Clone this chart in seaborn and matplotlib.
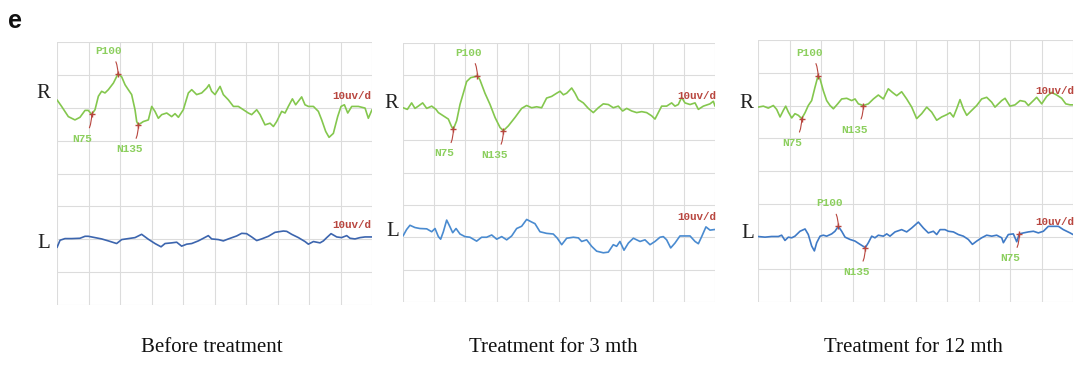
import numpy as np
import pandas as pd
import matplotlib
matplotlib.use("Agg")
import matplotlib.pyplot as plt
import seaborn as sns

# ---------------- data (time in ms, amplitude in uV) ----------------
p1_R_t = [0, 4.4, 10.8, 17.1, 21.9, 26.7, 29.8, 33.0, 36.2, 39.4, 42.5, 45.7, 48.9, 53.7, 58.1, 61.6, 64.8,
          67.9, 71.1, 74.3, 75.9, 77.5, 82.2, 87.0, 90.2, 93.3, 96.5, 99.7, 104.5, 109.2, 112.4, 115.6,
          120.3, 125.1, 128.3, 133.0, 137.8, 142.6, 144.8, 147.3, 150.5, 155.3, 158.4, 163.2, 168.0,
          172.7, 177.5, 182.2, 185.4, 190.2, 193.4, 198.1, 202.9, 206.1, 209.2, 214.0, 217.2, 220.3,
          224.2, 227.3, 233.0, 236.2, 239.4, 244.2, 248.9, 252.1, 255.9, 259.1, 263.2, 267.3, 270.5,
          273.7, 276.9, 280.7, 287.0, 293.4, 296.5, 300]
p1_R_v = [2.4, 0.4, -2.7, -3.7, -2.9, -0.8, -0.8, -2.0, -0.6, 3.5, 5.0, 4.5, 5.5, 7.5, 10.3, 9.4, 7.0,
          5.5, 4.0, -0.6, -4.2, -5.2, -4.2, -3.7, 0.4, -1.1, -3.2, -2.1, -1.6, -2.7, -1.8, -2.9,
          -0.6, 4.5, 5.5, 4.0, 4.5, 6.0, 7.0, 5.0, 4.0, 6.5, 4.0, 2.4, 0.4,
          0.4, -0.6, -1.6, -2.1, -0.6, -2.1, -5.2, -4.7, -5.7, -4.2, -1.1, -1.6, 0.4,
          2.7, 0.9, 3.3, 0.9, 0.4, 0.4, -1.1, -3.7, -7.2, -9.0, -7.8, -2.7, 0.4,
          0.9, -1.6, 0.4, 0.4, -0.1, -3.2, -0.6]

p1_L_t = [0, 2.9, 7.6, 14.0, 21.9, 26.7, 29.8, 36.2, 42.5, 48.9, 56.8, 61.6, 67.9, 74.3, 80.6, 87.0,
          93.3, 99.1, 102.9, 109.2, 114.0, 118.7, 123.5, 128.3, 134.6, 139.4, 144.1, 147.3, 153.7,
          158.4, 163.2, 171.1, 175.9, 180.6, 185.4, 190.2, 194.9, 201.3, 207.6, 215.6, 218.8, 223.5,
          229.9, 236.2, 239.4, 244.2, 250.5, 253.7, 256.9, 261.0, 266.4, 271.1, 275.9, 279.1, 283.8,
          288.6, 293.4, 298.1, 300]
p1_L_v = [-2.5, -0.3, 0.2, 0.2, 0.3, 0.9, 0.9, 0.5, 0.1, -0.5, -1.3, -0.1, 0.2, 0.5, 1.5, 0.0,
          -1.3, -2.3, -1.3, -1.1, -0.9, -2.1, -1.5, -1.3, -0.5, 0.3, 1.1, 0.1, -0.1,
          -0.5, 0.1, 1.0, 1.8, 1.7, 0.7, -0.4, 0.1, 0.9, 2.1, 2.5, 2.4, 1.5,
          0.5, -0.7, -1.5, -0.7, -1.1, -0.5, 0.5, 1.7, 0.7, 0.5, 1.1, 0.3, 0.1,
          0.5, 0.7, 0.7, 0.7]

p2_R_t = [0, 4.2, 8.3, 11.5, 14.7, 18.9, 22.8, 27.6, 31.7, 34.0, 38.8, 43.6, 46.8, 48.4, 51.6, 54.8,
          58.0, 61.2, 65.1, 69.2, 71.5, 74.0, 78.8, 83.7, 88.5, 93.3, 96.5, 101.3, 107.7, 114.1,
          118.9, 123.7, 128.5, 133.3, 138.1, 142.9, 147.8, 151.0, 154.2, 157.4, 162.2, 165.4, 168.6,
          173.4, 178.2, 183.0, 187.8, 192.6, 197.4, 202.2, 207.0, 211.2, 215.1, 219.9, 224.7, 229.5,
          234.3, 239.1, 242.3, 245.5, 248.7, 253.5, 258.3, 261.5, 264.7, 267.9, 271.1, 276.0, 280.8,
          284.0, 288.8, 295.2, 298.4, 300]
p2_R_v = [0.0, -0.5, 1.5, -0.2, 0.5, 1.5, -0.2, 0.5, -0.5, -1.5, -2.5, -3.5, -5.9, -6.6, -4.0, 1.0,
          4.5, 8.1, 9.3, 9.6, 9.9, 8.6, 4.5, 1.0, -3.0, -6.1, -7.1, -5.6, -3.0, -0.2,
          0.7, 0.0, 0.3, 0.0, 3.0, 3.5, 4.5, 5.1, 4.0, 4.5, 6.1, 4.5, 2.5,
          1.5, -0.2, -1.5, 0.0, 1.2, 1.0, 0.0, 0.5, -1.0, -0.2, -1.0, -1.5, -1.2,
          -1.5, -2.5, -3.5, -1.5, 0.5, 0.5, 1.5, 0.5, 1.0, 3.2, 1.5, 1.0, 1.5,
          -0.5, 0.5, 1.2, 2.0, 0.5]

p2_L_t = [0, 3.5, 6.7, 11.5, 16.3, 22.8, 27.6, 30.8, 34.0, 36.2, 38.8, 42.0, 45.2, 47.8, 51.0, 54.8,
          59.6, 64.4, 70.8, 75.6, 80.4, 85.3, 90.1, 94.9, 99.7, 104.5, 109.3, 114.1, 118.9, 123.7,
          126.9, 131.7, 138.1, 144.5, 148.4, 152.6, 157.4, 163.8, 168.6, 171.8, 176.6, 181.4, 186.2,
          192.6, 197.4, 202.2, 205.4, 208.6, 212.5, 216.7, 221.5, 227.9, 232.7, 237.5, 242.3, 247.1,
          250.3, 253.5, 257.4, 261.5, 266.3, 272.7, 276.0, 280.8, 284.0, 287.2, 291.3, 295.2, 300]
p2_L_v = [0.4, 2.4, 3.7, 3.0, 2.7, 2.6, 1.7, 2.7, 0.2, -0.6, 1.7, 5.3, 3.2, 1.4, 2.7, 1.0,
          0.2, 0.0, -1.2, 0.0, 0.0, 0.7, -0.6, 0.2, -0.8, 0.4, 2.7, 3.4, 5.5, 4.7,
          4.2, 1.7, 1.2, 1.0, -0.3, -2.3, -0.3, 0.0, -0.2, -1.3, -0.8, -2.8, -4.3,
          -4.8, -4.6, -2.3, -2.8, -1.3, -4.0, -1.8, -0.3, -1.3, -0.8, -2.3, -1.3, 0.0,
          0.2, -0.8, -3.3, -1.8, 0.4, 0.4, 0.4, -1.3, -2.0, 0.2, 3.2, 2.2, 2.4]

p3_R_t = [0, 5.1, 9.8, 14.6, 17.8, 21.0, 24.1, 26.4, 28.9, 32.1, 35.2, 38.4, 41.6, 44.8, 47.9, 51.1,
          54.3, 57.2, 59.1, 62.2, 65.4, 68.6, 71.8, 75.9, 79.7, 84.5, 89.2, 92.4, 95.6, 100.3,
          105.1, 109.9, 114.6, 119.4, 124.1, 128.0, 132.1, 136.8, 141.6, 146.4, 151.1, 155.9, 160.7,
          165.4, 170.2, 174.9, 179.7, 182.9, 186.1, 189.2, 192.4, 195.6, 198.8, 203.5, 208.3, 213.0,
          217.8, 222.6, 225.7, 232.1, 235.3, 240.0, 244.8, 249.6, 254.3, 257.5, 262.3, 265.4, 270.2,
          275.0, 279.7, 284.5, 289.2, 293.1, 297.2, 300]
p3_R_v = [-0.5, -0.2, -0.8, 0.0, -1.2, -3.5, -1.5, -0.2, -2.0, -3.8, -2.5, -3.0, -4.0, -2.2, 0.0, 1.5,
          5.6, 9.1, 8.1, 4.5, 1.5, 0.0, -1.0, 0.5, 2.0, 2.2, 1.5, 2.0, 0.5, 0.0,
          0.5, 2.0, 3.2, 2.0, 5.1, 4.0, 3.0, 4.2, 2.0, -0.5, -4.0, -2.5, -0.5,
          -2.0, -4.5, -3.5, -2.8, -2.2, -3.5, -1.0, 1.8, -1.0, -3.0, -1.5, 0.0, 2.0,
          2.5, 1.0, -0.5, 1.5, 2.2, -0.2, 0.2, 1.5, 1.2, 0.0, 1.5, 2.5, 0.5,
          2.8, 4.0, 3.2, 2.2, 0.5, 0.2, 0.2]

p3_L_t = [0, 6.7, 13.0, 19.4, 22.5, 25.7, 28.9, 32.1, 35.2, 40.0, 44.8, 47.9, 51.1, 53.7, 55.9, 59.1,
          62.2, 65.4, 70.2, 73.3, 76.5, 79.7, 82.9, 87.6, 92.4, 97.2, 102.2, 105.1, 108.3, 111.4,
          114.6, 119.4, 122.6, 125.7, 130.5, 136.8, 141.6, 146.4, 152.7, 157.5, 162.2, 167.0, 170.2,
          173.4, 178.1, 181.3, 186.1, 190.8, 195.6, 200.3, 204.2, 208.3, 213.0, 217.8, 222.6, 227.3,
          232.1, 233.7, 238.4, 243.2, 246.4, 248.9, 252.9, 257.5, 262.3, 267.0, 271.8, 276.5, 281.3,
          286.1, 290.8, 297.2, 300]
p3_L_v = [0.0, -0.2, 0.0, 0.0, 0.4, -1.2, -0.2, -0.4, 0.1, 1.6, 2.3, 0.6, -2.9, -4.4, -1.9, 0.1,
          0.4, 0.1, 0.8, 1.6, 3.1, 1.6, -0.2, -0.9, -1.4, -2.4, -3.4, -1.9, 0.1, -0.4,
          0.4, 0.1, 0.8, 0.1, 1.4, 2.1, 1.4, 2.6, 4.4, 2.6, 1.1, 1.6, 0.6,
          2.1, 2.1, 1.6, 1.4, 0.6, 0.1, -0.9, -2.4, -1.4, -0.4, 0.4, 0.1, 0.4,
          -0.4, -1.9, 0.6, 0.8, -1.6, 0.8, 1.1, 1.4, 1.6, 1.1, 1.6, 3.1, 3.1,
          3.1, 2.1, 1.1, 0.6]

# peak markers: names, latency (ms), amplitude (uV)
p1_R_peaks = ["N75", "P100", "N135"]
p1_R_peak_t = [33.0, 58.1, 77.5]
p1_R_peak_v = [-2.0, 10.3, -5.2]
p2_R_peaks = ["N75", "P100", "N135"]
p2_R_peak_t = [48.4, 71.5, 96.5]
p2_R_peak_v = [-6.6, 9.9, -7.1]
p3_R_peaks = ["N75", "P100", "N135"]
p3_R_peak_t = [41.6, 57.2, 100.3]
p3_R_peak_v = [-4.0, 9.1, 0.0]
p3_L_peaks = ["P100", "N135", "N75"]
p3_L_peak_t = [76.5, 102.2, 248.9]
p3_L_peak_v = [3.1, -3.4, 0.8]

panel_titles = ["Before treatment", "Treatment for 3 mth", "Treatment for 12 mth"]
scale_label = "10uv/d"

# ---------------- style ----------------
sns.set_style("white")
plt.rcParams["font.family"] = ["DejaVu Sans"]

W, H = 1080, 382
fig = plt.figure(figsize=(W / 100, H / 100), dpi=100)

def fx(x):
    return x / W

def fy(y):
    return 1 - y / H

GREEN = "#84c74e"
RED = "#b8463f"
LABEL_GREEN = "#8ccf5e"
GRID = "#dcdcdc"
L_OFFSET = -40  # uV display offset of the L trace

panels = [
    dict(box=(57, 372, 42, 305), R=(p1_R_t, p1_R_v), L=(p1_L_t, p1_L_v), lcol="#3c65ae",
         Rpk=(p1_R_peaks, p1_R_peak_t, p1_R_peak_v), Lpk=None,
         Rlab=(43, 94), Llab=(44, 244), sR=(352, 96), sL=(352, 225), title=212),
    dict(box=(403, 715, 43, 302), R=(p2_R_t, p2_R_v), L=(p2_L_t, p2_L_v), lcol="#4a8bd0",
         Rpk=(p2_R_peaks, p2_R_peak_t, p2_R_peak_v), Lpk=None,
         Rlab=(391, 104), Llab=(393, 232), sR=(697, 96), sL=(697, 217), title=553),
    dict(box=(758, 1073, 40, 302), R=(p3_R_t, p3_R_v), L=(p3_L_t, p3_L_v), lcol="#3f7ac6",
         Rpk=(p3_R_peaks, p3_R_peak_t, p3_R_peak_v), Lpk=(p3_L_peaks, p3_L_peak_t, p3_L_peak_v),
         Rlab=(746, 104), Llab=(748, 234), sR=(1055, 91), sL=(1055, 222), title=913),
]

def annotate_peaks(ax, pk, offset):
    names, ts, vs = pk
    for name, t, v in zip(names, ts, vs):
        up = name.startswith("P")
        dy = 16.5 if up else -17.5
        ax.plot([t], [v + offset], marker="+", color=RED, ms=5, mew=1.0, zorder=5)
        ax.annotate(name, xy=(t, v + offset), xytext=(-6.5, dy), textcoords="offset points",
                    ha="center", va="center", color=LABEL_GREEN, fontsize=8,
                    family=["Liberation Mono", "DejaVu Sans Mono"], fontweight="bold",
                    arrowprops=dict(arrowstyle="-", color=RED, lw=0.8, shrinkA=2, shrinkB=0,
                                    connectionstyle="arc3,rad=-0.2" if up else "arc3,rad=0.2"),
                    zorder=6)

for p in panels:
    l, r, t, b = p["box"]
    ax = fig.add_axes([fx(l), fy(b), fx(r - l), (b - t) / H])
    dfR = pd.DataFrame({"t": p["R"][0], "v": p["R"][1]})
    dfL = pd.DataFrame({"t": p["L"][0], "v": np.array(p["L"][1]) + L_OFFSET})
    sns.lineplot(data=dfR, x="t", y="v", ax=ax, color=GREEN, lw=1.2, sort=False, estimator=None)
    sns.lineplot(data=dfL, x="t", y="v", ax=ax, color=p["lcol"], lw=1.2, sort=False, estimator=None)
    ax.set_xlim(0, 300)
    ax.set_ylim(-60, 20)
    ax.set_xticks(np.arange(0, 301, 30))
    ax.set_yticks(np.arange(-60, 21, 10))
    ax.grid(True, color=GRID, lw=0.8)
    ax.tick_params(length=0, labelbottom=False, labelleft=False)
    ax.set_xlabel("")
    ax.set_ylabel("")
    for s in ax.spines.values():
        s.set_visible(False)
    annotate_peaks(ax, p["Rpk"], 0)
    if p["Lpk"] is not None:
        annotate_peaks(ax, p["Lpk"], L_OFFSET)
    # side letters
    fig.text(fx(p["Rlab"][0]), fy(p["Rlab"][1]), "R", ha="center", va="center",
             family=["Liberation Serif"], fontsize=15, color="#222222")
    fig.text(fx(p["Llab"][0]), fy(p["Llab"][1]), "L", ha="center", va="center",
             family=["Liberation Serif"], fontsize=15, color="#222222")
    for pos in (p["sR"], p["sL"]):
        fig.text(fx(pos[0]), fy(pos[1]), scale_label, ha="center", va="center",
                 family=["Liberation Mono"], fontsize=7.8, fontweight="bold", color=RED)

for title, p in zip(panel_titles, panels):
    fig.text(fx(p["title"]), fy(347), title, ha="center", va="center",
             family=["Liberation Serif"], fontsize=15, color="#111111")

fig.text(fx(15), fy(21), "e", ha="center", va="center", fontsize=18, fontweight="bold",
         family=["Liberation Sans", "DejaVu Sans"], color="#111111")

fig.savefig("out.png", dpi=100, facecolor="white")
